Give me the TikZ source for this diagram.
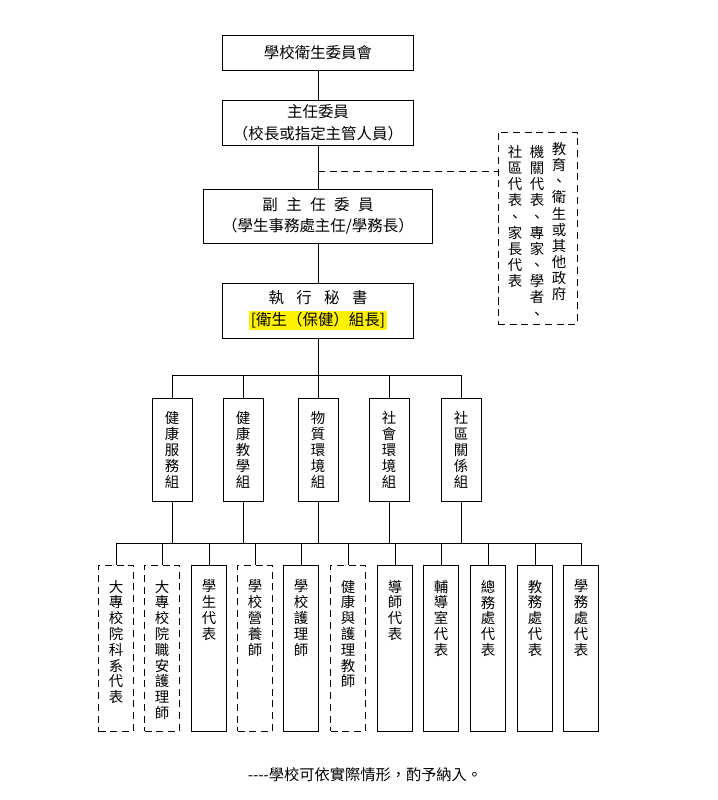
\documentclass[tikz,border=0pt]{standalone}
\usepackage{fontspec}
\setmainfont{Noto Sans CJK TC}
\newcommand{\columna}[1]{\parbox[c][4.98cm][t]{1.05cm}{\centering\vspace*{0.45cm}#1}}
\begin{document}
\begin{tikzpicture}[x=0.03cm, y=-0.03cm,
    % Estilos de los nodos
    cargo/.style={rectangle, draw=black, line width=0.8pt, align=center, inner sep=0pt, font=\fontsize{13.2}{18.5}\selectfont},
    grupo/.style={rectangle, draw=black, line width=0.8pt, align=center, minimum width=1.2cm, minimum height=3.09cm, inner sep=0pt, font=\fontsize{12.3}{13.7}\selectfont},
    miembro/.style={rectangle, draw=black, line width=0.8pt, inner sep=0pt, font=\fontsize{12.3}{13.5}\selectfont},
    externo/.style={miembro, dash pattern=on 6pt off 4pt},
    coltexto/.style={align=center, inner sep=0pt, font=\fontsize{12.3}{13.8}\selectfont},
    texto/.style={font=\fontsize{13}{15}\selectfont, text=black},
    line/.style={-, line width=0.8pt, draw=black},
    enlace/.style={line, dash pattern=on 6pt off 4pt}
]
\useasboundingbox (0,0) rectangle (718,800);

% --- COMITE Y CARGOS ---
\node[cargo, minimum width=5.73cm, minimum height=1.05cm] (consejo) at (318,52.5) {學校衛生委員會};
\node[cargo, minimum width=5.73cm, minimum height=1.35cm] (presidente) at (318,122.5) {主任委員\\（校長或指定主管人員）};
\node[cargo, minimum width=6.87cm, minimum height=1.62cm] (vice) at (318,216) {副\hspace{0.55em}主\hspace{0.55em}任\hspace{0.55em}委\hspace{0.55em}員\\（學生事務處主任/學務長）};
\node[cargo, minimum width=5.73cm, minimum height=1.65cm] (secretario) at (318,310.5) {執\hspace{0.8em}行\hspace{0.8em}秘\hspace{0.8em}書\\{\setlength{\fboxsep}{1.5pt}\colorbox{yellow}{[衛生（保健）組長]}}};

\draw[line] (consejo) -- (presidente);
\draw[line] (presidente) -- (vice);
\draw[line] (vice) -- (secretario);

% --- REPRESENTANTES EXTERNOS ---
\node[externo, minimum width=2.37cm, minimum height=5.76cm] (otros) at (537.5,228) {};
\node[coltexto, anchor=north] (col1) at (559,142) {教\\育\\、\\衛\\生\\或\\其\\他\\政\\府};
\node[coltexto, anchor=north] (col2) at (537,145) {機\\關\\代\\表\\、\\專\\家\\、\\學\\者\\、};
\node[coltexto, anchor=north] (col3) at (515,145) {社\\區\\代\\表\\、\\家\\長\\代\\表};

\coordinate (cruce) at (318,171);
\draw[enlace] (cruce) -- (cruce -| otros.west);

% --- GRUPOS DE TRABAJO ---
\node[grupo] (g1) at (172,449.5) {健\\康\\服\\務\\組};
\node[grupo] (g2) at (243,449.5) {健\\康\\教\\學\\組};
\node[grupo] (g3) at (318,449.5) {物\\質\\環\\境\\組};
\node[grupo] (g4) at (389,449.5) {社\\會\\環\\境\\組};
\node[grupo] (g5) at (461,449.5) {社\\區\\關\\係\\組};

\coordinate (bus1) at (318,375);
\draw[line] (secretario) -- (bus1);
\draw[line] (g1.north) -- (g1.north |- bus1) -- (g5.north |- bus1) -- (g5.north);
\draw[line] (g2.north) -- (g2.north |- bus1);
\draw[line] (g3.north) -- (bus1);
\draw[line] (g4.north) -- (g4.north |- bus1);

% --- MIEMBROS ---
\node[externo] (m1) at (116,648) {\columna{大\\專\\校\\院\\科\\系\\代\\表}};
\node[externo] (m2) at (162,648) {\columna{大\\專\\校\\院\\職\\安\\護\\理\\師}};
\node[miembro] (m3) at (209,648) {\columna{學\\生\\代\\表}};
\node[externo] (m4) at (255,648) {\columna{學\\校\\營\\養\\師}};
\node[miembro] (m5) at (301,648) {\columna{學\\校\\護\\理\\師}};
\node[externo] (m6) at (348,648) {\columna{健\\康\\與\\護\\理\\教\\師}};
\node[miembro] (m7) at (395,648) {\columna{導\\師\\代\\表}};
\node[miembro] (m8) at (441,648) {\columna{輔\\導\\室\\代\\表}};
\node[miembro] (m9) at (488,648) {\columna{總\\務\\處\\代\\表}};
\node[miembro] (m10) at (535,648) {\columna{教\\務\\處\\代\\表}};
\node[miembro] (m11) at (581,648) {\columna{學\\務\\處\\代\\表}};

\coordinate (bus2) at (318,543);
\draw[line] (g1.south) -- (g1.south |- bus2);
\draw[line] (g2.south) -- (g2.south |- bus2);
\draw[line] (g3.south) -- (bus2);
\draw[line] (g4.south) -- (g4.south |- bus2);
\draw[line] (g5.south) -- (g5.south |- bus2);
\draw[line] (m1.north |- bus2) -- (m11.north |- bus2);
\draw[line] (m1.north) -- (m1.north |- bus2);
\draw[line] (m2.north) -- (m2.north |- bus2);
\draw[line] (m3.north) -- (m3.north |- bus2);
\draw[line] (m4.north) -- (m4.north |- bus2);
\draw[line] (m5.north) -- (m5.north |- bus2);
\draw[line] (m6.north) -- (m6.north |- bus2);
\draw[line] (m7.north) -- (m7.north |- bus2);
\draw[line] (m8.north) -- (m8.north |- bus2);
\draw[line] (m9.north) -- (m9.north |- bus2);
\draw[line] (m10.north) -- (m10.north |- bus2);
\draw[line] (m11.north) -- (m11.north |- bus2);

% --- NOTA ---
\node[texto] (nota) at (365,775) {{-}{-}{-}{-}學校可依實際情形，酌予納入。};

\end{tikzpicture}
\end{document}
